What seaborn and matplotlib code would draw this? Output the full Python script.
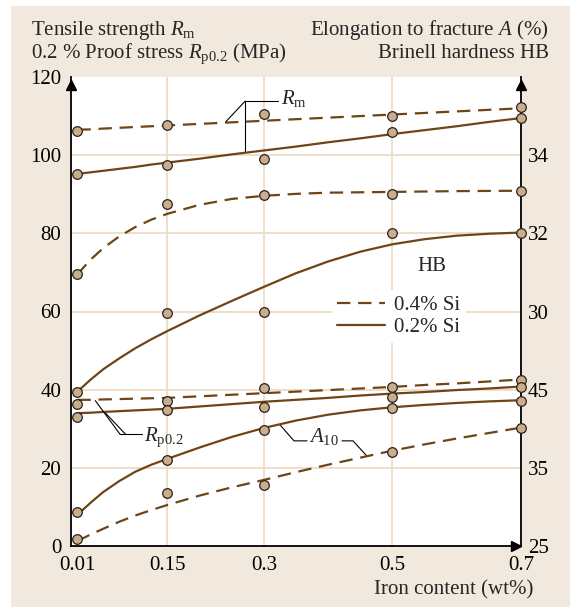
import matplotlib
matplotlib.use("Agg")
import matplotlib.pyplot as plt
import matplotlib.transforms as mtransforms
from matplotlib.lines import Line2D
from matplotlib.patches import Rectangle
import seaborn as sns

# ---------------- data ----------------
iron_content = [0.01, 0.15, 0.3, 0.5, 0.7]
iron_tick_labels = ["0.01", "0.15", "0.3", "0.5", "0.7"]

# measured points (MPa, HB, %)
rm_si04 = [106.1, 107.7, 110.5, 110.0, 112.2]
rm_si02 = [95.1, 97.4, 99.1, 105.8, 109.5]
rp_si04 = [36.4, 37.2, 40.3, 40.7, 42.6]
rp_si02 = [33.1, 34.8, 35.5, 38.2, 40.6]
hb_si04 = [30.95, 32.76, 32.99, 33.0, 33.09]
hb_si02 = [27.95, 29.97, 29.99, 32.01, 32.02]
a10_si04 = [25.9, 31.75, 32.8, 37.05, 40.15]
a10_si02 = [29.3, 36.0, 39.9, 42.65, 43.6]

# fitted curves
curve_iron = [0.01, 0.03, 0.05, 0.075, 0.1, 0.125, 0.15, 0.2, 0.25, 0.3,
              0.35, 0.4, 0.45, 0.5, 0.55, 0.6, 0.65, 0.7]
rm_fit_si04 = [106.5, 106.6, 106.8, 107.0, 107.2, 107.4, 107.6, 108.0, 108.4, 108.8,
               109.2, 109.6, 110.0, 110.4, 110.8, 111.2, 111.6, 112.0]
rm_fit_si02 = [95.2, 95.6, 96.0, 96.5, 97.0, 97.6, 98.1, 99.1, 100.2, 101.2,
               102.2, 103.3, 104.3, 105.4, 106.4, 107.4, 108.5, 109.5]
rp_fit_si04 = [37.4, 37.4, 37.5, 37.6, 37.7, 37.8, 37.9, 38.3, 38.7, 39.1,
               39.5, 39.9, 40.3, 40.7, 41.2, 41.6, 42.1, 42.6]
rp_fit_si02 = [34.0, 34.1, 34.3, 34.5, 34.7, 34.9, 35.1, 35.7, 36.3, 36.9,
               37.4, 37.9, 38.5, 39.0, 39.4, 39.9, 40.3, 40.8]
hb_fit_si04 = [30.95, 31.32, 31.62, 31.92, 32.16, 32.35, 32.5, 32.73, 32.88, 32.96,
               33.01, 33.04, 33.05, 33.06, 33.07, 33.08, 33.085, 33.09]
hb_fit_si02 = [27.95, 28.25, 28.52, 28.8, 29.06, 29.29, 29.5, 29.9, 30.27, 30.63,
               30.98, 31.28, 31.53, 31.72, 31.85, 31.94, 31.99, 32.02]
a10_fit_si04 = [25.65, 26.45, 27.2, 28.1, 28.9, 29.6, 30.25, 31.45, 32.5, 33.45,
                34.45, 35.4, 36.3, 37.2, 38.0, 38.75, 39.45, 40.15]
a10_fit_si02 = [29.0, 30.5, 31.9, 33.3, 34.5, 35.4, 36.15, 37.6, 38.95, 40.1,
                41.05, 41.8, 42.35, 42.75, 43.05, 43.3, 43.5, 43.65]

left_ticks = [0, 20, 40, 60, 80, 100, 120]
hb_ticks = [30, 32, 34]
a10_ticks = [25, 35, 45]
legend_labels = ["0.4% Si", "0.2% Si"]

# ---------------- style ----------------
BROWN = "#6f4416"
MFILL = "#c9ad8c"
MEDGE = "#2a2019"
BEIGE = "#f1e9dd"
GRID = "#ecdcc6"
DASH = (0, (6, 3.5))
FS = 15
LW = 1.6

sns.set_theme(style="white")
plt.rcParams["font.family"] = ["Liberation Serif", "DejaVu Serif"]
plt.rcParams["mathtext.fontset"] = "custom"
plt.rcParams["mathtext.rm"] = "Liberation Serif"
plt.rcParams["mathtext.it"] = "Liberation Serif:italic"
plt.rcParams["mathtext.bf"] = "Liberation Serif:bold"

W, H = 570, 607
fig = plt.figure(figsize=(W / 100, H / 100), dpi=100, facecolor="white")
fig.add_artist(Rectangle((11 / W, 0), 1 - 11 / W, 1 - 6 / H, transform=fig.transFigure,
                         facecolor=BEIGE, edgecolor="none", zorder=-10))

ax = fig.add_axes([71 / W, (H - 546) / H, 450 / W, (546 - 77) / H])
ax.set_facecolor("white")
ax_hb = ax.twinx()
ax_a = ax.twinx()

# grid
for gy in [20, 40, 60, 80, 100]:
    ax.axhline(gy, color=GRID, lw=1.3, zorder=0)
for gx in [0.15, 0.3, 0.5]:
    ax.axvline(gx, color=GRID, lw=1.3, zorder=0)

series = [
    (ax, rm_fit_si04, rm_si04, True),
    (ax, rm_fit_si02, rm_si02, False),
    (ax, rp_fit_si04, rp_si04, True),
    (ax, rp_fit_si02, rp_si02, False),
    (ax_hb, hb_fit_si04, hb_si04, True),
    (ax_hb, hb_fit_si02, hb_si02, False),
    (ax_a, a10_fit_si04, a10_si04, True),
    (ax_a, a10_fit_si02, a10_si02, False),
]
for a, cy, py, dashed in series:
    kw = dict(linestyle=DASH) if dashed else {}
    sns.lineplot(x=curve_iron, y=cy, ax=a, color=BROWN, lw=LW, zorder=3, **kw)
    sns.scatterplot(x=iron_content, y=py, ax=a, s=48, color=MFILL, edgecolor=MEDGE,
                    linewidth=0.9, zorder=5, clip_on=False)

ax.set_xlim(0, 0.7)
ax.set_ylim(0, 120)
ax_hb.set_ylim(24, 36)
ax_a.set_ylim(25, 85)

ax.set_xticks(iron_content)
ax.set_xticklabels(iron_tick_labels)
ax.set_yticks(left_ticks)
ax_hb.set_yticks(hb_ticks)
ax_a.set_yticks(a10_ticks)
ax.tick_params(axis="x", length=0, pad=7, labelsize=FS, colors="black")
ax.tick_params(axis="y", length=0, pad=7, labelsize=FS, colors="black")
for t in (ax_hb, ax_a):
    t.tick_params(axis="y", length=0, pad=5, labelsize=FS, colors="black")
    for s in t.spines.values():
        s.set_visible(False)
    t.set_ylabel("")
ax.set_xlabel("")
ax.set_ylabel("")

for name in ["left", "bottom", "right"]:
    ax.spines[name].set_visible(True)
    ax.spines[name].set_color("black")
    ax.spines[name].set_linewidth(1.3)
ax.spines["top"].set_visible(False)

# axis arrows
up = mtransforms.offset_copy(ax.transAxes, fig=fig, x=0, y=-8, units="dots")
right = mtransforms.offset_copy(ax.transAxes, fig=fig, x=-5, y=0, units="dots")
ax.plot([0, 1], [1, 1], marker="^", ms=7.5, color="black", ls="none", transform=up, clip_on=False, zorder=6)
ax.plot([1], [0], marker=">", ms=7.5, color="black", ls="none", transform=right, clip_on=False, zorder=6)

# annotations
LK = dict(color="black", lw=0.8, zorder=4)
ax.plot([0.2707, 0.322], [113.8, 113.8], **LK)
ax.plot([0.2707, 0.2411], [113.8, 108.6], **LK)
ax.plot([0.2707, 0.2707], [113.8, 101.1], **LK)
ax.text(0.3267, 114.6, r"$R_\mathrm{m}$", fontsize=FS, va="center", ha="left")

ax.plot([0.0378, 0.0762], [37.2, 28.6], **LK)
ax.plot([0.0537, 0.0848], [34.0, 28.6], **LK)
ax.plot([0.0762, 0.1104], [28.6, 28.6], **LK)
ax.text(0.1136, 27.9, r"$R_\mathrm{p0.2}$", fontsize=FS, va="center", ha="left")

ax.plot([0.3251, 0.3469, 0.3671], [31.0, 26.9, 26.9], **LK)
ax.plot([0.4216, 0.4387, 0.4604], [26.9, 26.9, 23.0], **LK)
ax.text(0.3702, 27.9, r"$A_\mathrm{10}$", fontsize=FS, va="center", ha="left")

ax.text(0.5616, 71.5, "HB", fontsize=FS, va="center", ha="center")

# legend
handles = [Line2D([], [], color=BROWN, lw=LW, linestyle=DASH),
           Line2D([], [], color=BROWN, lw=LW)]
leg = ax_a.legend(handles, legend_labels, loc="upper left",
                  bbox_to_anchor=(332 / W, 1 - 290 / H), bbox_transform=fig.transFigure,
                  frameon=True, facecolor="white", edgecolor="none", framealpha=1,
                  fancybox=False, handlelength=2.3, handletextpad=0.45, labelspacing=0.15,
                  borderpad=0.25, borderaxespad=0, fontsize=FS)
leg.set_zorder(10)

# header texts
fig.text(31 / W, 1 - 30 / H, r"Tensile strength $R_\mathrm{m}$", fontsize=FS, ha="left", va="center")
fig.text(31 / W, 1 - 54 / H, r"0.2 % Proof stress $R_\mathrm{p0.2}$ (MPa)", fontsize=FS, ha="left", va="center")
fig.text(549 / W, 1 - 30 / H, r"Elongation to fracture $A$ (%)", fontsize=FS, ha="right", va="center")
fig.text(549 / W, 1 - 54 / H, "Brinell hardness HB", fontsize=FS, ha="right", va="center")
fig.text(533 / W, 1 - 590 / H, "Iron content (wt%)", fontsize=FS, ha="right", va="center")

fig.savefig("out.png", dpi=100, facecolor=fig.get_facecolor())
